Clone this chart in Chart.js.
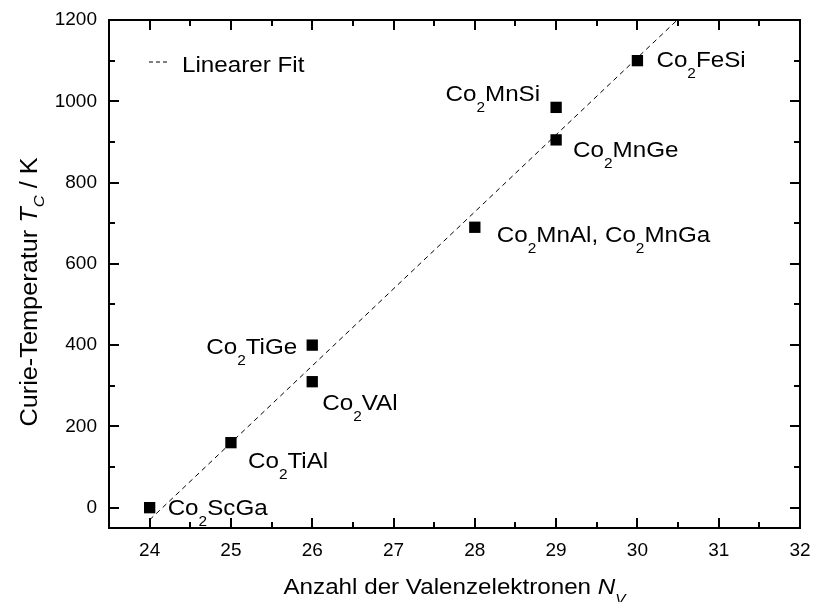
<!DOCTYPE html>
<html>
<head>
<meta charset="utf-8">
<script src="https://cdn.jsdelivr.net/npm/chart.js@4.4.1/dist/chart.umd.min.js"></script>
<style>
html, body { margin: 0; padding: 0; background: #fff; }
canvas { display: block; }
</style>
</head>
<body>
<canvas id="chart" width="813" height="602"></canvas>
<script>
// values
const valenceElectrons = [24, 25, 26, 26, 28, 29, 29, 30];
const curieTemps = [0, 160, 400, 310, 690, 985, 905, 1100];
const compounds = ['Co2ScGa', 'Co2TiAl', 'Co2TiGe', 'Co2VAl', 'Co2MnAl, Co2MnGa', 'Co2MnSi', 'Co2MnGe', 'Co2FeSi'];

// dashed linear fit, end points
const fitX = [24, 30.49];
const fitY = [-30, 1200];

const xTicks = [24, 25, 26, 27, 28, 29, 30, 31, 32];
const yTicks = [0, 200, 400, 600, 800, 1000, 1200];

// where each label sits relative to its point (px), and which side
const labelPlace = [
	[18, 7, 'left'],
	[17, 25, 'left'],
	[-15, 9, 'right'],
	[10, 28, 'left'],
	[22, 15, 'left'],
	[-16, -6, 'right'],
	[17, 17, 'left'],
	[19, 6, 'left']
];

const FONT = '"Liberation Sans", Arial, Helvetica, sans-serif';
const SX = 1.1;

function segFont(s, size) {
	const sz = s.sub ? Math.round(size * 0.64) : size;
	return (s.italic ? 'italic ' : '') + sz + 'px ' + FONT;
}

// digits become subscripts: Co2FeSi
function chemSegs(str) {
	const segs = [];
	for (const ch of str) {
		const sub = /[0-9]/.test(ch);
		const last = segs[segs.length - 1];
		if (last && last.sub === sub) last.t += ch;
		else segs.push({ t: ch, sub: sub });
	}
	return segs;
}

function drawSegs(ctx, segs, size, x, y, align, rot, subShift) {
	ctx.save();
	ctx.translate(x, y);
	if (rot) ctx.rotate(rot);
	ctx.scale(SX, 1);
	ctx.textBaseline = 'alphabetic';
	ctx.textAlign = 'left';
	ctx.fillStyle = '#000';
	let w = 0;
	for (const s of segs) {
		ctx.font = segFont(s, size);
		w += ctx.measureText(s.t).width;
	}
	let cx = align === 'right' ? -w : (align === 'center' ? -w / 2 : 0);
	for (const s of segs) {
		ctx.font = segFont(s, size);
		ctx.fillText(s.t, cx, s.sub ? size * subShift : 0);
		cx += ctx.measureText(s.t).width;
	}
	ctx.restore();
}

const framePlugin = {
	id: 'frame',
	afterDatasetsDraw(chart) {
		const { ctx, chartArea: a, scales: { x, y } } = chart;
		ctx.save();
		ctx.strokeStyle = '#000';
		ctx.lineWidth = 2;
		ctx.strokeRect(a.left, a.top, a.right - a.left, a.bottom - a.top);

		ctx.beginPath();
		const xTick = (v, len) => {
			const px = Math.round(x.getPixelForValue(v));
			ctx.moveTo(px, a.bottom); ctx.lineTo(px, a.bottom - len);
			ctx.moveTo(px, a.top); ctx.lineTo(px, a.top + len);
		};
		const yTick = (v, len) => {
			const py = Math.round(y.getPixelForValue(v));
			ctx.moveTo(a.left, py); ctx.lineTo(a.left + len, py);
			ctx.moveTo(a.right, py); ctx.lineTo(a.right - len, py);
		};
		xTicks.forEach((v, i) => {
			xTick(v, 10);
			if (i > 0) xTick((v + xTicks[i - 1]) / 2, 6);
		});
		yTicks.forEach((v, i) => {
			yTick(v, 10);
			if (i > 0) yTick((v + yTicks[i - 1]) / 2, 6);
		});
		ctx.stroke();

		// point labels
		const meta = chart.getDatasetMeta(1);
		meta.data.forEach((pt, i) => {
			const [dx, dy, al] = labelPlace[i];
			drawSegs(ctx, chemSegs(compounds[i]), 22, pt.x + dx, pt.y + dy, al, 0, 0.5);
		});

		// legend
		ctx.lineWidth = 1;
		ctx.setLineDash([4, 3]);
		ctx.beginPath();
		ctx.moveTo(a.left + 40, a.top + 42);
		ctx.lineTo(a.left + 60, a.top + 42);
		ctx.stroke();
		ctx.setLineDash([]);
		drawSegs(ctx, [{ t: 'Linearer Fit' }], 22, a.left + 73, a.top + 52, 'left', 0, 0);

		// axis titles
		const cxMid = (a.left + a.right) / 2;
		drawSegs(ctx, [
			{ t: 'Anzahl der Valenzelektronen ' },
			{ t: 'N', italic: true },
			{ t: 'V', italic: true, sub: true }
		], 22, cxMid, 594, 'center', 0, 0.45);
		drawSegs(ctx, [
			{ t: 'Curie-Temperatur ' },
			{ t: 'T', italic: true },
			{ t: 'C', italic: true, sub: true },
			{ t: ' / K' }
		], 23, 37, 292, 'center', -Math.PI / 2, 0.3);
		ctx.restore();
	}
};

const context = document.getElementById('chart').getContext('2d');

new Chart(context, {
	data: {
		datasets: [
			{
				type: 'line',
				data: fitX.map((v, i) => ({ x: v, y: fitY[i] })),
				borderColor: '#000',
				borderWidth: 1,
				borderDash: [5, 4],
				pointRadius: 0,
				fill: false,
				order: 2
			},
			{
				type: 'scatter',
				data: valenceElectrons.map((v, i) => ({ x: v, y: curieTemps[i] })),
				pointStyle: 'rect',
				pointRadius: 8,
				backgroundColor: '#000',
				borderColor: '#000',
				borderWidth: 0,
				order: 1
			}
		]
	},
	options: {
		responsive: false,
		animation: false,
		layout: { padding: { top: 20, right: 13, left: 0, bottom: 0 } },
		plugins: {
			legend: { display: false },
			tooltip: { enabled: false }
		},
		scales: {
			x: {
				type: 'linear',
				min: 23.5,
				max: 32,
				afterBuildTicks: (s) => { s.ticks = xTicks.map(v => ({ value: v })); },
				afterFit: (s) => {
					s.height = 74;
					s.paddingLeft = 0;
					s.paddingRight = 0;
				},
				grid: { display: false, drawTicks: false },
				border: { display: false },
				ticks: {
					color: '#000',
					font: { family: FONT, size: 19 },
					padding: 11,
					maxRotation: 0,
					autoSkip: false,
					callback: (v) => String(v)
				}
			},
			y: {
				type: 'linear',
				min: -50,
				max: 1200,
				afterBuildTicks: (s) => { s.ticks = yTicks.map(v => ({ value: v })); },
				afterFit: (s) => {
					s.width = 109;
					s.paddingTop = 0;
					s.paddingBottom = 0;
				},
				grid: { display: false, drawTicks: false },
				border: { display: false },
				ticks: {
					color: '#000',
					font: { family: FONT, size: 19 },
					padding: 12,
					autoSkip: false,
					callback: (v) => String(v)
				}
			}
		}
	},
	plugins: [framePlugin]
});
</script>
</body>
</html>
